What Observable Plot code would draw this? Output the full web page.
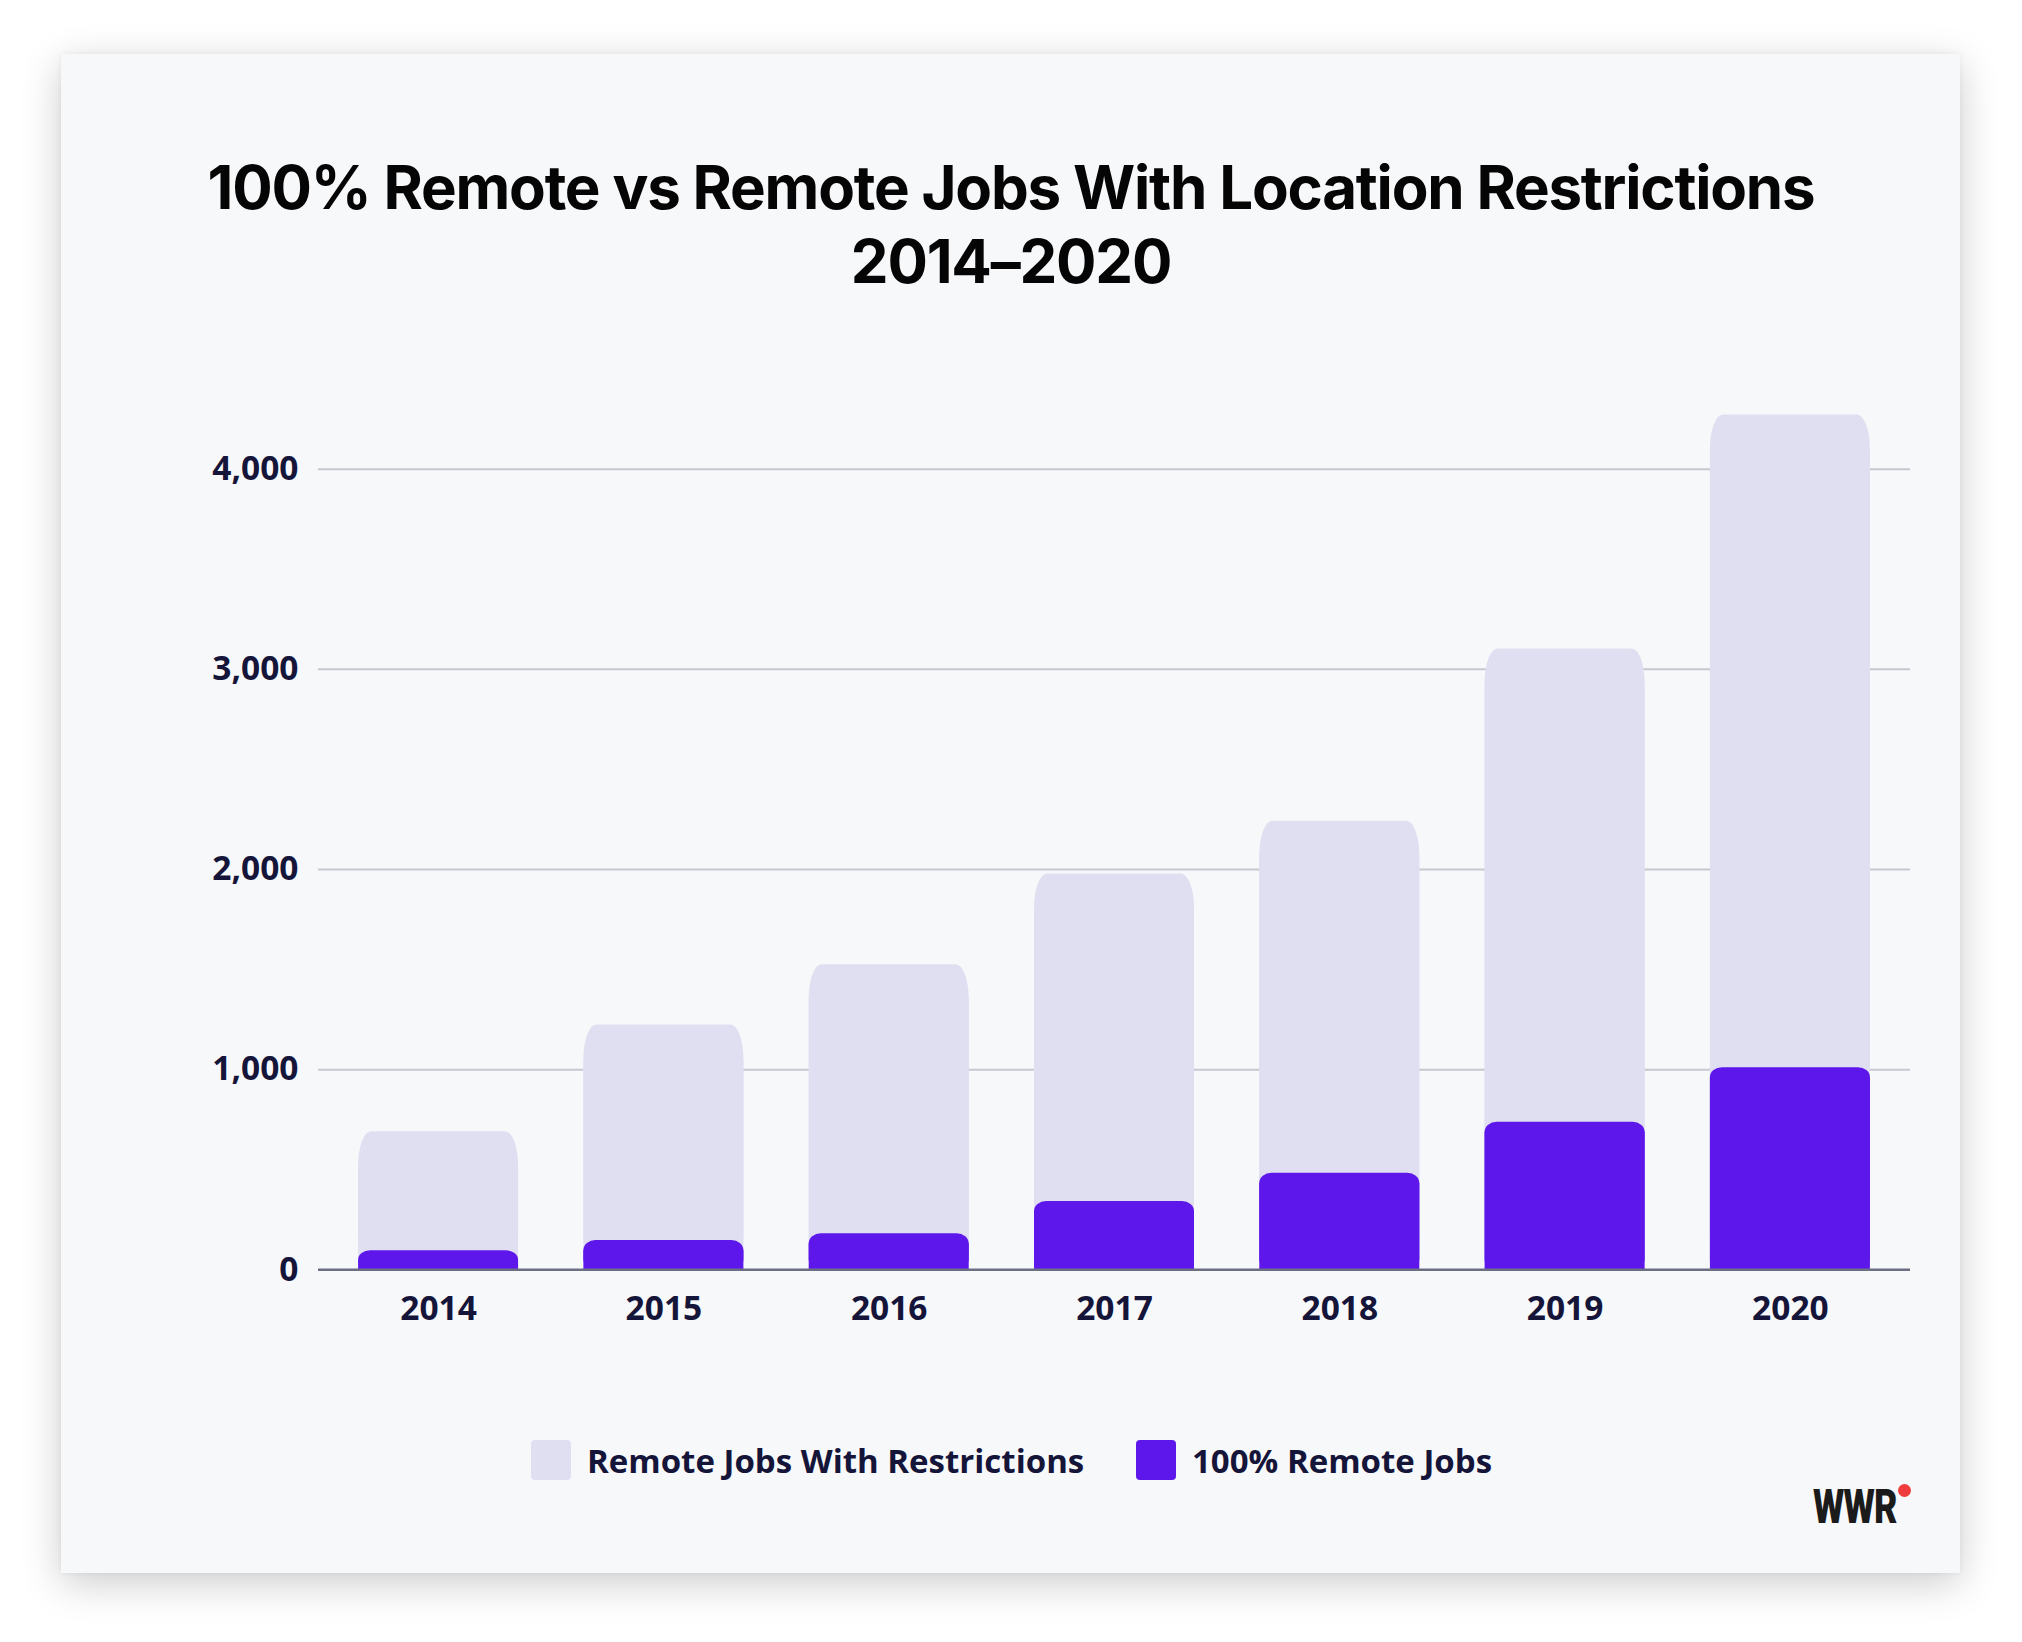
<!DOCTYPE html>
<html>
<head>
<meta charset="utf-8">
<script src="https://cdn.jsdelivr.net/npm/d3@7"></script>
<script src="https://cdn.jsdelivr.net/npm/@observablehq/plot@0.6"></script>
<style>
  html, body { margin: 0; padding: 0; background: #ffffff; width: 2022px; height: 1642px; overflow: hidden; }
  #card { position: absolute; left: 61px; top: 54px; width: 1899px; height: 1519px; background: #f7f8fa;
          box-shadow: 0 10px 38px rgba(0,0,0,0.20), 0 0 6px rgba(0,0,0,0.06); }
  #title { position: absolute; left: 0; top: 150px; width: 2022px; text-align: center;
           font-family: Inter, "Liberation Sans", sans-serif; font-weight: 700; font-size: 60px;
           line-height: 74px; color: #050505; letter-spacing: -1.2px; }
  #chart { position: absolute; left: 0; top: 380px; }
  .legend { position: absolute; top: 1440px; height: 40px; display: flex; align-items: center;
            font-family: "Open Sans", "Noto Sans", sans-serif; font-weight: 700; font-size: 33px; color: #15153a; }
  .sw { width: 40px; height: 40px; border-radius: 4px; margin-right: 16px; }
  #logo { position: absolute; left: 1813px; top: 1478px; font-family: Roboto, "Liberation Sans", sans-serif;
          font-weight: 900; font-size: 48px; color: #1b1b1b; transform: scaleX(0.75); transform-origin: left top;
          letter-spacing: -1px; }
  #dot { position: absolute; left: 1898px; top: 1484px; width: 13px; height: 13px; border-radius: 50%; background: #ef3d3d; }
</style>
</head>
<body>
<div id="card"></div>
<div id="title">100% Remote vs Remote Jobs With Location Restrictions<br>2014–2020</div>
<div id="chart"></div>
<div class="legend" style="left:531px;"><div class="sw" style="background:#dfdff1"></div><span id="lg1"></span></div>
<div class="legend" style="left:1136px;"><div class="sw" style="background:#5e17eb"></div><span id="lg2"></span></div>
<div id="logo">WWR</div>
<div id="dot"></div>
<script>
// Data
const years = ["2014", "2015", "2016", "2017", "2018", "2019", "2020"];
const fullyRemote = [95, 146, 180, 341, 482, 737, 1010];          // 100% Remote Jobs
const restricted = [595, 1077, 1344, 1636, 1759, 2365, 3260];     // Remote Jobs With Restrictions
const yTicks = [0, 1000, 2000, 3000, 4000];
const seriesNames = ["Remote Jobs With Restrictions", "100% Remote Jobs"];

document.getElementById("lg1").textContent = seriesNames[0];
document.getElementById("lg2").textContent = seriesNames[1];

const data = years.map((year, i) => ({
  year,
  remote: fullyRemote[i],
  total: fullyRemote[i] + restricted[i]
}));

const chart = Plot.plot({
  width: 2022,
  height: 970,
  marginLeft: 318,
  marginRight: 112,
  marginTop: 28.6,
  marginBottom: 80.7,
  style: { background: "transparent", fontFamily: "'Open Sans', 'Noto Sans', sans-serif", fontSize: "33.5px", fontWeight: 700, color: "#15153a" },
  x: { domain: years, paddingInner: 0.29, paddingOuter: 0.178, round: false, label: null },
  y: { domain: [0, 4300], label: null },
  marks: [
    Plot.gridY(yTicks.slice(1), { stroke: "#c6c7d1", strokeOpacity: 1, strokeWidth: 2 }),
    Plot.barY(data, { x: "year", y: "total", fill: "#dfdff1", rx: 13, ry: 34 }),
    Plot.barY(data, { x: "year", y: "total", fill: "#dfdff1", insetTop: 34 }),
    Plot.barY(data, { x: "year", y: "remote", fill: "#5e17eb", rx: 12, ry: 10 }),
    Plot.barY(data, { x: "year", y: "remote", fill: "#5e17eb", insetTop: 10 }),
    Plot.ruleY([0], { stroke: "#6c6e84", strokeWidth: 2.5 }),
    Plot.axisY({ ticks: yTicks, tickSize: 0, tickPadding: 20, tickFormat: d3.format(","), label: null }),
    Plot.axisX({ tickSize: 0, tickPadding: 26, label: null })
  ]
});
document.getElementById("chart").appendChild(chart);
</script>
</body>
</html>
